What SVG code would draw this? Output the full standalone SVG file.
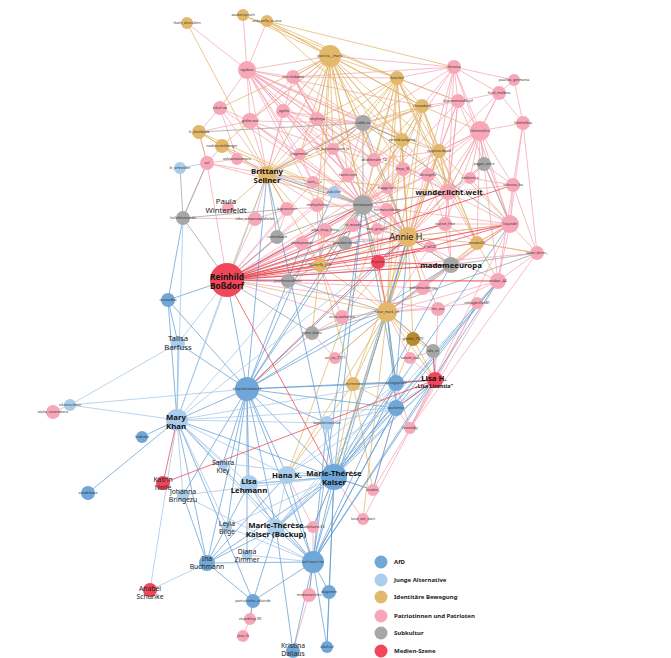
<svg xmlns="http://www.w3.org/2000/svg" width="671" height="658" viewBox="0 0 671 658">
<style>
#edges path{fill:none;stroke-width:.85;stroke-opacity:.85}
.ep path{stroke:#f4a1b2}.eg path{stroke:#e2b363}.eb path{stroke:#5e9bd1}.el path{stroke:#9dc3e6}.ey path{stroke:#9a9a9a}.er path{stroke:#ee3a4d}
.afd{fill:#6fa7d8}.ja{fill:#a9cdea}.ib{fill:#e4b86a}.pp{fill:#f7a7b8}.sk{fill:#a7a7a7}.ms{fill:#f2475a}.ibd{fill:#b88a2c}
text{font-family:"Noto Sans","Open Sans",sans-serif;text-anchor:middle}
.s{font-size:3.6px;fill:#333}
.b{font-size:7.8px;font-weight:700;fill:#111}
.r{font-size:7.8px;fill:#222}
.q{font-size:6.8px;fill:#222}
.lg{font-size:6px;font-weight:700;fill:#222;text-anchor:start}
</style>
<rect width="671" height="658" fill="#fff"/>
<g id="edges">
<g class="ep">
<path d="M247 70L187 23"/><path d="M247 70L243 15"/><path d="M247 70L267 21"/><path d="M247 70L293 77"/><path d="M247 70L220 108"/><path d="M247 70L250 121"/><path d="M247 70L283 111"/><path d="M247 70L317 119"/><path d="M247 70L330 56"/><path d="M247 70L267 174"/><path d="M247 70L333 149"/><path d="M247 70L374 160"/><path d="M247 70L363 123"/><path d="M247 70L300 154"/><path d="M247 70L363 205"/><path d="M247 70L408 237"/><path d="M247 70L403 169"/><path d="M247 70L348 175"/><path d="M247 70L439 151"/><path d="M247 70L402 140"/><path d="M247 70L422 106"/><path d="M247 70L313 182"/><path d="M247 70L448 192"/><path d="M247 70L317 205"/>
<path d="M293 77L330 56"/><path d="M293 77L250 121"/><path d="M293 77L317 119"/><path d="M293 77L363 123"/><path d="M293 77L397 78"/><path d="M293 77L454 67"/><path d="M293 77L333 149"/><path d="M293 77L363 205"/><path d="M293 77L267 174"/><path d="M293 77L348 175"/><path d="M293 77L408 237"/>
<path d="M454 67L330 56"/><path d="M454 67L397 78"/><path d="M454 67L458 101"/><path d="M454 67L480 131"/><path d="M454 67L499 93"/><path d="M454 67L422 106"/><path d="M454 67L439 151"/><path d="M454 67L448 192"/><path d="M454 67L510 224"/><path d="M454 67L408 237"/><path d="M454 67L363 205"/><path d="M454 67L363 123"/><path d="M454 67L514 80"/>
<path d="M499 93L514 80"/><path d="M499 93L458 101"/><path d="M499 93L480 131"/><path d="M499 93L523 123"/><path d="M499 93L439 151"/><path d="M499 93L448 192"/>
<path d="M523 123L514 80"/><path d="M523 123L480 131"/><path d="M523 123L513 185"/><path d="M523 123L537 253"/><path d="M523 123L510 224"/>
<path d="M458 101L397 78"/><path d="M458 101L480 131"/><path d="M458 101L439 151"/><path d="M458 101L422 106"/><path d="M458 101L363 123"/><path d="M458 101L363 205"/><path d="M458 101L448 192"/><path d="M458 101L408 237"/><path d="M458 101L445 224"/><path d="M458 101L510 224"/>
<path d="M480 131L439 151"/><path d="M480 131L484 164"/><path d="M480 131L470 178"/><path d="M480 131L513 185"/><path d="M480 131L448 192"/><path d="M480 131L510 224"/><path d="M480 131L408 237"/><path d="M480 131L363 205"/><path d="M480 131L477 243"/><path d="M480 131L498 281"/><path d="M480 131L445 224"/><path d="M480 131L428 175"/><path d="M480 131L403 169"/>
<path d="M220 108L250 121"/><path d="M220 108L267 174"/><path d="M220 108L237 159"/><path d="M220 108L199 132"/><path d="M220 108L363 205"/>
<path d="M283 111L330 56"/><path d="M283 111L363 123"/><path d="M283 111L317 119"/><path d="M283 111L333 149"/><path d="M283 111L267 174"/><path d="M283 111L363 205"/><path d="M283 111L374 160"/><path d="M283 111L348 175"/>
<path d="M317 119L330 56"/><path d="M317 119L363 123"/><path d="M317 119L333 149"/><path d="M317 119L300 154"/><path d="M317 119L363 205"/><path d="M317 119L267 174"/><path d="M317 119L374 160"/><path d="M317 119L408 237"/>
<path d="M250 121L330 56"/><path d="M250 121L199 132"/><path d="M250 121L363 123"/><path d="M250 121L267 174"/><path d="M250 121L333 149"/><path d="M250 121L300 154"/><path d="M250 121L363 205"/><path d="M250 121L408 237"/>
<path d="M333 149L363 123"/><path d="M333 149L363 205"/><path d="M333 149L374 160"/><path d="M333 149L348 175"/><path d="M333 149L313 182"/><path d="M333 149L408 237"/>
<path d="M300 154L267 174"/><path d="M300 154L363 205"/><path d="M300 154L363 123"/><path d="M300 154L313 182"/>
<path d="M374 160L363 205"/><path d="M374 160L402 140"/><path d="M374 160L403 169"/><path d="M374 160L408 237"/><path d="M374 160L363 123"/><path d="M374 160L439 151"/>
<path d="M207 163L199 132"/><path d="M207 163L183 218"/><path d="M207 163L267 174"/><path d="M207 163L222 146"/><path d="M207 163L237 159"/><path d="M207 163L363 205"/><path d="M207 163L227 280"/>
<path d="M237 159L267 174"/><path d="M237 159L222 146"/><path d="M237 159L363 205"/>
<path d="M403 169L363 205"/><path d="M403 169L408 237"/><path d="M403 169L402 140"/><path d="M403 169L448 192"/><path d="M403 169L428 175"/><path d="M403 169L227 280"/>
<path d="M348 175L363 205"/><path d="M348 175L408 237"/><path d="M348 175L363 123"/><path d="M348 175L334 192"/><path d="M348 175L227 280"/>
<path d="M428 175L448 192"/><path d="M428 175L408 237"/><path d="M428 175L439 151"/><path d="M428 175L363 205"/><path d="M428 175L445 224"/><path d="M428 175L227 280"/>
<path d="M470 178L448 192"/><path d="M470 178L484 164"/><path d="M470 178L510 224"/><path d="M470 178L408 237"/><path d="M470 178L513 185"/>
<path d="M513 185L510 224"/><path d="M513 185L537 253"/><path d="M513 185L448 192"/><path d="M513 185L498 281"/><path d="M513 185L484 164"/>
<path d="M313 182L363 205"/><path d="M313 182L334 192"/><path d="M313 182L267 174"/><path d="M313 182L227 280"/>
<path d="M387 188L363 205"/><path d="M387 188L408 237"/><path d="M387 188L403 169"/><path d="M387 188L227 280"/>
<path d="M448 192L408 237"/><path d="M448 192L363 205"/><path d="M448 192L439 151"/><path d="M448 192L510 224"/><path d="M448 192L445 224"/><path d="M448 192L477 243"/><path d="M448 192L451 265"/><path d="M448 192L378 262"/><path d="M448 192L227 280"/>
<path d="M317 205L363 205"/><path d="M317 205L267 174"/><path d="M317 205L325 230"/><path d="M317 205L320 265"/><path d="M317 205L227 280"/>
<path d="M387 210L363 205"/><path d="M387 210L408 237"/><path d="M387 210L378 262"/><path d="M387 210L353 225"/><path d="M387 210L227 280"/>
<path d="M287 209L363 205"/><path d="M287 209L267 174"/><path d="M287 209L227 280"/><path d="M287 209L255 219"/><path d="M287 209L277 237"/>
<path d="M255 219L227 280"/><path d="M255 219L267 174"/><path d="M255 219L183 218"/>
<path d="M353 225L363 205"/><path d="M353 225L408 237"/><path d="M353 225L378 262"/><path d="M353 225L345 243"/><path d="M353 225L227 280"/>
<path d="M377 229L408 237"/><path d="M377 229L363 205"/><path d="M377 229L378 262"/><path d="M377 229L227 280"/>
<path d="M325 230L363 205"/><path d="M325 230L320 265"/><path d="M325 230L227 280"/>
<path d="M445 224L408 237"/><path d="M445 224L510 224"/><path d="M445 224L477 243"/><path d="M445 224L451 265"/><path d="M445 224L227 280"/>
<path d="M510 224L408 237"/><path d="M510 224L477 243"/><path d="M510 224L537 253"/><path d="M510 224L498 281"/><path d="M510 224L451 265"/><path d="M510 224L363 205"/><path d="M510 224L423 288"/><path d="M510 224L387 312"/><path d="M510 224L410 428"/><path d="M510 224L227 280"/>
<path d="M302 243L363 205"/><path d="M302 243L320 265"/><path d="M302 243L227 280"/><path d="M302 243L408 237"/>
<path d="M430 247L408 237"/><path d="M430 247L451 265"/><path d="M430 247L387 312"/><path d="M430 247L227 280"/>
<path d="M537 253L498 281"/><path d="M537 253L477 243"/><path d="M537 253L410 428"/><path d="M537 253L227 280"/>
<path d="M498 281L387 312"/><path d="M498 281L408 237"/><path d="M498 281L477 303"/><path d="M498 281L438 309"/><path d="M498 281L373 490"/><path d="M498 281L227 280"/>
<path d="M423 288L387 312"/><path d="M423 288L408 237"/><path d="M423 288L451 265"/><path d="M423 288L227 280"/>
<path d="M477 303L387 312"/><path d="M477 303L435 380"/><path d="M477 303L363 519"/>
<path d="M438 309L387 312"/><path d="M438 309L435 380"/><path d="M438 309L408 237"/><path d="M438 309L227 280"/>
<path d="M342 317L387 312"/><path d="M342 317L312 333"/><path d="M342 317L320 265"/><path d="M342 317L408 237"/><path d="M342 317L227 280"/>
<path d="M335 358L387 312"/><path d="M335 358L312 333"/>
<path d="M410 358L433 351"/><path d="M410 358L387 312"/><path d="M410 358L435 380"/>
<path d="M410 428L396 408"/><path d="M410 428L435 380"/><path d="M410 428L396 383"/>
<path d="M373 490L334 477"/><path d="M373 490L396 408"/>
<path d="M363 519L334 477"/>
<path d="M313 527L334 477"/><path d="M313 527L313 562"/><path d="M313 527L287 475"/>
<path d="M309 595L313 562"/><path d="M309 595L293 651"/>
<path d="M250 619L253 601"/><path d="M250 619L243 636"/>
<path d="M53 412L70 405"/>
</g>
<g class="eg">
<path d="M187 23L267 174"/><path d="M243 15L330 56"/><path d="M243 15L397 78"/>
<path d="M267 21L330 56"/><path d="M267 21L397 78"/><path d="M267 21L422 106"/><path d="M267 21L402 140"/><path d="M267 21L454 67"/>
<path d="M330 56L397 78"/><path d="M330 56L422 106"/><path d="M330 56L402 140"/><path d="M330 56L439 151"/><path d="M330 56L363 123"/><path d="M330 56L333 149"/><path d="M330 56L317 119"/><path d="M330 56L283 111"/><path d="M330 56L250 121"/><path d="M330 56L293 77"/><path d="M330 56L267 174"/><path d="M330 56L363 205"/><path d="M330 56L408 237"/><path d="M330 56L374 160"/><path d="M330 56L348 175"/><path d="M330 56L448 192"/><path d="M330 56L300 154"/><path d="M330 56L320 265"/><path d="M330 56L387 312"/><path d="M330 56L403 169"/><path d="M330 56L317 205"/><path d="M330 56L220 108"/>
<path d="M397 78L422 106"/><path d="M397 78L402 140"/><path d="M397 78L439 151"/><path d="M397 78L363 123"/><path d="M397 78L363 205"/><path d="M397 78L408 237"/><path d="M397 78L458 101"/><path d="M397 78L333 149"/><path d="M397 78L374 160"/><path d="M397 78L348 175"/><path d="M397 78L317 119"/><path d="M397 78L448 192"/><path d="M397 78L387 188"/><path d="M397 78L387 312"/><path d="M397 78L477 243"/><path d="M397 78L267 174"/>
<path d="M422 106L402 140"/><path d="M422 106L439 151"/><path d="M422 106L363 123"/><path d="M422 106L363 205"/><path d="M422 106L408 237"/><path d="M422 106L374 160"/><path d="M422 106L480 131"/><path d="M422 106L448 192"/><path d="M422 106L333 149"/><path d="M422 106L387 312"/><path d="M422 106L477 243"/><path d="M422 106L267 174"/><path d="M422 106L287 475"/>
<path d="M402 140L439 151"/><path d="M402 140L363 123"/><path d="M402 140L363 205"/><path d="M402 140L408 237"/><path d="M402 140L403 169"/><path d="M402 140L348 175"/><path d="M402 140L387 312"/><path d="M402 140L320 265"/>
<path d="M439 151L408 237"/><path d="M439 151L363 205"/><path d="M439 151L448 192"/><path d="M439 151L477 243"/><path d="M439 151L510 224"/><path d="M439 151L387 312"/><path d="M439 151L334 477"/>
<path d="M199 132L222 146"/><path d="M199 132L207 163"/><path d="M199 132L363 205"/><path d="M199 132L267 174"/>
<path d="M222 146L267 174"/><path d="M222 146L250 121"/><path d="M222 146L363 205"/>
<path d="M267 174L363 205"/><path d="M267 174L408 237"/><path d="M267 174L363 123"/><path d="M267 174L227 280"/><path d="M267 174L228 208"/><path d="M267 174L320 265"/><path d="M267 174L387 312"/><path d="M267 174L333 149"/><path d="M267 174L287 209"/><path d="M267 174L448 192"/>
<path d="M408 237L363 205"/><path d="M408 237L477 243"/><path d="M408 237L387 312"/><path d="M408 237L451 265"/><path d="M408 237L378 262"/><path d="M408 237L510 224"/><path d="M408 237L448 192"/><path d="M408 237L320 265"/><path d="M408 237L413 339"/><path d="M408 237L353 384"/><path d="M408 237L423 288"/><path d="M408 237L227 280"/>
<path d="M477 243L537 253"/><path d="M477 243L510 224"/><path d="M477 243L387 312"/><path d="M477 243L451 265"/><path d="M477 243L498 281"/>
<path d="M320 265L227 280"/><path d="M320 265L363 205"/><path d="M320 265L387 312"/><path d="M320 265L288 281"/><path d="M320 265L312 333"/><path d="M320 265L353 384"/>
<path d="M387 312L413 339"/><path d="M387 312L353 384"/><path d="M387 312L433 351"/><path d="M387 312L363 519"/><path d="M387 312L334 477"/><path d="M387 312L435 380"/><path d="M387 312L335 358"/><path d="M387 312L287 475"/><path d="M387 312L396 383"/><path d="M387 312L227 280"/>
<path d="M353 384L334 477"/><path d="M353 384L396 383"/><path d="M353 384L396 408"/><path d="M353 384L287 475"/><path d="M353 384L373 490"/>
<path d="M413 339L433 351"/><path d="M413 339L435 380"/><path d="M413 339L396 383"/>
</g>
<g class="ey">
<path d="M363 123L363 205"/><path d="M363 123L402 140"/><path d="M363 123L333 149"/><path d="M363 123L267 174"/><path d="M363 123L408 237"/><path d="M363 123L199 132"/><path d="M363 123L510 224"/>
<path d="M484 164L448 192"/><path d="M484 164L510 224"/>
<path d="M363 205L408 237"/><path d="M363 205L267 174"/><path d="M363 205L320 265"/><path d="M363 205L227 280"/><path d="M363 205L448 192"/><path d="M363 205L378 262"/>
<path d="M183 218L207 163"/><path d="M183 218L227 280"/><path d="M183 218L180 168"/><path d="M183 218L287 209"/>
<path d="M277 237L227 280"/><path d="M277 237L267 174"/><path d="M277 237L363 205"/>
<path d="M345 243L363 205"/><path d="M345 243L408 237"/><path d="M345 243L227 280"/>
<path d="M451 265L537 253"/><path d="M451 265L408 237"/><path d="M451 265L387 312"/><path d="M451 265L227 280"/>
<path d="M288 281L227 280"/><path d="M288 281L363 205"/><path d="M288 281L387 312"/>
<path d="M312 333L387 312"/><path d="M312 333L247 389"/><path d="M312 333L227 280"/><path d="M312 333L537 253"/>
<path d="M433 351L435 380"/><path d="M433 351L387 312"/>
</g>
<g class="eb">
<path d="M168 300L183 218"/><path d="M168 300L227 280"/><path d="M168 300L177 420"/><path d="M168 300L178 343"/><path d="M168 300L247 389"/>
<path d="M247 389L227 280"/><path d="M247 389L178 343"/><path d="M247 389L177 420"/><path d="M247 389L334 477"/><path d="M247 389L287 475"/><path d="M247 389L249 484"/><path d="M247 389L276 528"/><path d="M247 389L313 562"/><path d="M247 389L327 423"/><path d="M247 389L396 383"/><path d="M247 389L396 408"/><path d="M247 389L363 205"/><path d="M247 389L267 174"/><path d="M247 389L408 237"/><path d="M247 389L387 312"/><path d="M247 389L207 563"/><path d="M247 389L223 463"/><path d="M247 389L227 527"/><path d="M247 389L247 555"/><path d="M247 389L183 495"/><path d="M247 389L334 192"/><path d="M247 389L451 265"/><path d="M247 389L435 380"/><path d="M247 389L345 243"/><path d="M247 389L302 243"/>
<path d="M396 383L334 477"/><path d="M396 383L396 408"/><path d="M396 383L435 380"/><path d="M396 383L387 312"/><path d="M396 383L313 562"/><path d="M396 383L408 237"/><path d="M396 383L363 205"/>
<path d="M396 408L334 477"/><path d="M396 408L313 562"/><path d="M396 408L435 380"/><path d="M396 408L373 490"/><path d="M396 408L387 312"/><path d="M396 408L498 281"/>
<path d="M142 437L177 420"/><path d="M88 493L177 420"/>
<path d="M334 477L313 562"/><path d="M334 477L287 475"/><path d="M334 477L249 484"/><path d="M334 477L276 528"/><path d="M334 477L435 380"/><path d="M334 477L498 281"/><path d="M334 477L408 237"/><path d="M334 477L363 205"/><path d="M334 477L373 490"/><path d="M334 477L313 527"/><path d="M334 477L327 423"/><path d="M334 477L177 420"/><path d="M334 477L477 303"/><path d="M334 477L510 224"/><path d="M334 477L451 265"/><path d="M334 477L267 174"/>
<path d="M207 563L313 562"/><path d="M207 563L249 484"/><path d="M207 563L177 420"/><path d="M207 563L253 601"/><path d="M207 563L276 528"/><path d="M207 563L183 495"/><path d="M207 563L287 475"/><path d="M207 563L334 477"/>
<path d="M313 562L276 528"/><path d="M313 562L287 475"/><path d="M313 562L249 484"/><path d="M313 562L396 408"/><path d="M313 562L293 651"/><path d="M313 562L327 647"/><path d="M313 562L329 592"/><path d="M313 562L309 595"/><path d="M313 562L253 601"/><path d="M313 562L177 420"/><path d="M313 562L435 380"/><path d="M313 562L327 423"/><path d="M313 562L498 281"/><path d="M313 562L363 205"/><path d="M313 562L408 237"/>
<path d="M253 601L250 619"/><path d="M253 601L276 528"/><path d="M253 601L177 420"/>
<path d="M329 592L327 647"/><path d="M329 592L334 477"/>
<path d="M293 651L276 528"/><path d="M327 647L334 477"/>
</g>
<g class="el">
<path d="M180 168L207 163"/><path d="M334 192L363 205"/><path d="M334 192L408 237"/><path d="M334 192L267 174"/>
<path d="M178 343L70 405"/><path d="M178 343L177 420"/><path d="M178 343L227 280"/>
<path d="M70 405L177 420"/><path d="M70 405L247 389"/>
<path d="M177 420L178 343"/><path d="M177 420L227 280"/><path d="M177 420L287 475"/><path d="M177 420L249 484"/><path d="M177 420L276 528"/><path d="M177 420L183 495"/><path d="M177 420L150 590"/><path d="M177 420L223 463"/><path d="M177 420L327 423"/><path d="M177 420L396 408"/><path d="M177 420L396 383"/><path d="M177 420L408 237"/><path d="M177 420L363 205"/><path d="M177 420L183 218"/><path d="M177 420L267 174"/><path d="M177 420L227 527"/>
<path d="M327 423L334 477"/><path d="M327 423L396 408"/>
<path d="M249 484L334 477"/><path d="M249 484L287 475"/><path d="M249 484L276 528"/>
<path d="M287 475L435 380"/><path d="M287 475L396 383"/>
<path d="M276 528L334 477"/><path d="M276 528L287 475"/><path d="M276 528L249 484"/><path d="M276 528L396 408"/><path d="M276 528L396 383"/><path d="M276 528L498 281"/><path d="M276 528L435 380"/>
<path d="M183 495L334 477"/><path d="M183 495L313 562"/>
<path d="M223 463L334 477"/><path d="M227 527L313 562"/><path d="M227 527L334 477"/><path d="M247 555L313 562"/><path d="M247 555L334 477"/>
<path d="M150 590L207 563"/>
</g>
<g class="er">
<path d="M227 280L448 192"/><path d="M227 280L510 224"/><path d="M227 280L445 224"/><path d="M227 280L408 237"/><path d="M227 280L363 205"/><path d="M227 280L378 262"/><path d="M227 280L451 265"/><path d="M227 280L477 243"/><path d="M227 280L334 477"/><path d="M227 280L498 281"/><path d="M227 280L513 185"/><path d="M227 280L430 247"/>
<path d="M378 262L408 237"/><path d="M378 262L387 312"/><path d="M378 262L510 224"/><path d="M378 262L451 265"/><path d="M378 262L247 389"/>
<path d="M435 380L433 351"/><path d="M435 380L396 383"/><path d="M435 380L396 408"/>
<path d="M163 483L177 420"/><path d="M163 483L435 380"/>
</g>
</g>
<g id="nodes">
<g id="n-thalis"><circle cx="187" cy="23" r="6" class="ib"/><text x="187" y="24.2" class="s">thalis_dosculten</text></g>
<g id="n-zauber"><circle cx="243" cy="15" r="6" class="ib"/><text x="243" y="16.2" class="s">zauberspruch</text></g>
<g id="n-ankap"><circle cx="267" cy="21" r="6" class="ib"/><text x="267" y="22.2" class="s">ankapella_su.ana</text></g>
<g id="n-patricia"><circle cx="330" cy="56" r="11" class="ib"/><text x="330" y="57.2" class="s">patricia__maria</text></g>
<g id="n-futur"><circle cx="397" cy="78" r="7" class="ib"/><text x="397" y="79.2" class="s">futurleo</text></g>
<g id="n-zhora"><circle cx="422" cy="106" r="7" class="ib"/><text x="422" y="107.2" class="s">zhosadand</text></g>
<g id="n-erreed"><circle cx="402" cy="140" r="7" class="ib"/><text x="402" y="141.2" class="s">erreed.aufgang</text></g>
<g id="n-eugenia"><circle cx="439" cy="151" r="7" class="ib"/><text x="439" y="152.2" class="s">eugenia.david</text></g>
<g id="n-ledeold"><circle cx="199" cy="132" r="7" class="ib"/><text x="199" y="133.2" class="s">le_deoldsaw</text></g>
<g id="n-nadine"><circle cx="222" cy="146" r="7" class="ib"/><text x="222" y="147.2" class="s">nadine.eichberger</text></g>
<g id="n-egidess"><circle cx="247" cy="70" r="9" class="pp"/><text x="247" y="71.2" class="s">egidess</text></g>
<g id="n-meimid"><circle cx="293" cy="77" r="7" class="pp"/><text x="293" y="78.2" class="s">mei.midwest</text></g>
<g id="n-illonosa"><circle cx="454" cy="67" r="7" class="pp"/><text x="454" y="68.2" class="s">illonosa</text></g>
<g id="n-paulina"><circle cx="514" cy="80" r="6" class="pp"/><text x="514" y="81.2" class="s">paulina_germania</text></g>
<g id="n-furel"><circle cx="499" cy="93" r="7" class="pp"/><text x="499" y="94.2" class="s">furel_malbica</text></g>
<g id="n-bluemen"><circle cx="458" cy="101" r="7" class="pp"/><text x="458" y="102.2" class="s">bluemenundhopf</text></g>
<g id="n-nikolina"><circle cx="220" cy="108" r="7" class="pp"/><text x="220" y="109.2" class="s">nikoli.na</text></g>
<g id="n-ogelia"><circle cx="283" cy="111" r="7" class="pp"/><text x="283" y="112.2" class="s">_ogelia</text></g>
<g id="n-ninyfreya"><circle cx="317" cy="119" r="7" class="pp"/><text x="317" y="120.2" class="s">ninyfreya</text></g>
<g id="n-gothe"><circle cx="250" cy="121" r="8" class="pp"/><text x="250" y="122.2" class="s">gothe.sod</text></g>
<g id="n-lichthel"><circle cx="523" cy="123" r="7" class="pp"/><text x="523" y="124.2" class="s">lichthelksa</text></g>
<g id="n-rheines"><circle cx="480" cy="131" r="10" class="pp"/><text x="480" y="132.2" class="s">rheinesillrst</text></g>
<g id="n-logosmo"><circle cx="333" cy="149" r="6" class="pp"/><text x="333" y="150.2" class="s">m_logosmo.oum_fe</text></g>
<g id="n-fragmente"><circle cx="300" cy="154" r="6" class="pp"/><text x="300" y="155.2" class="s">_fragmente__</text></g>
<g id="n-deidel"><circle cx="374" cy="160" r="7" class="pp"/><text x="374" y="161.2" class="s">deidelerahr_14</text></g>
<g id="n-sol"><circle cx="207" cy="163" r="7" class="pp"/><text x="207" y="164.2" class="s">sol</text></g>
<g id="n-vahiane"><circle cx="237" cy="159" r="6" class="pp"/><text x="237" y="160.2" class="s">vahianeavamara</text></g>
<g id="n-freya"><circle cx="403" cy="169" r="7" class="pp"/><text x="403" y="170.2" class="s">freya_35</text></g>
<g id="n-hanni"><circle cx="348" cy="175" r="7" class="pp"/><text x="348" y="176.2" class="s">hanni.com</text></g>
<g id="n-dirvogel"><circle cx="428" cy="175" r="7" class="pp"/><text x="428" y="176.2" class="s">dir.vogelle</text></g>
<g id="n-ambient"><circle cx="470" cy="178" r="6" class="pp"/><text x="470" y="179.2" class="s">ambient.a</text></g>
<g id="n-schoose"><circle cx="513" cy="185" r="7" class="pp"/><text x="513" y="186.2" class="s">schoose_ha</text></g>
<g id="n-euro"><circle cx="313" cy="182" r="6" class="pp"/><text x="313" y="183.2" class="s">__euro___o</text></g>
<g id="n-fraggi"><circle cx="387" cy="188" r="6" class="pp"/><text x="387" y="189.2" class="s">fraggi.luna</text></g>
<g id="n-malnysh"><circle cx="317" cy="205" r="7" class="pp"/><text x="317" y="206.2" class="s">malnyshelva</text></g>
<g id="n-heimatsol"><circle cx="387" cy="210" r="7" class="pp"/><text x="387" y="211.2" class="s">heimatsoldaten</text></g>
<g id="n-lagrunz"><circle cx="287" cy="209" r="7" class="pp"/><text x="287" y="210.2" class="s">lagrunzione</text></g>
<g id="n-elke"><circle cx="255" cy="219" r="7" class="pp"/><text x="255" y="220.2" class="s">elke_schwarzwaldliebe</text></g>
<g id="n-ckmaede"><circle cx="353" cy="225" r="7" class="pp"/><text x="353" y="226.2" class="s">ck_maede</text></g>
<g id="n-sissi"><circle cx="377" cy="229" r="6" class="pp"/><text x="377" y="230.2" class="s">sissi_gruppe</text></g>
<g id="n-areashop"><circle cx="325" cy="230" r="7" class="pp"/><text x="325" y="231.2" class="s">area_shop_bless</text></g>
<g id="n-station"><circle cx="445" cy="224" r="7" class="pp"/><text x="445" y="225.2" class="s">station_fme</text></g>
<g id="n-lotjunde"><circle cx="510" cy="224" r="9" class="pp"/><text x="510" y="225.2" class="s">lotjunde</text></g>
<g id="n-shellap"><circle cx="302" cy="243" r="7" class="pp"/><text x="302" y="244.2" class="s">shellapseods</text></g>
<g id="n-ew520"><circle cx="430" cy="247" r="6" class="pp"/><text x="430" y="248.2" class="s">e_w520</text></g>
<g id="n-taute"><circle cx="537" cy="253" r="7" class="pp"/><text x="537" y="254.2" class="s">taute_derns_</text></g>
<g id="n-arabur"><circle cx="498" cy="281" r="8" class="pp"/><text x="498" y="282.2" class="s">arabur_44</text></g>
<g id="n-schildm"><circle cx="423" cy="288" r="7" class="pp"/><text x="423" y="289.2" class="s">schildmaidencay</text></g>
<g id="n-schlag"><circle cx="477" cy="303" r="6" class="pp"/><text x="477" y="304.2" class="s">schlagbrillen81</text></g>
<g id="n-moass"><circle cx="438" cy="309" r="7" class="pp"/><text x="438" y="310.2" class="s">mo_ass</text></g>
<g id="n-orina"><circle cx="342" cy="317" r="7" class="pp"/><text x="342" y="318.2" class="s">orina.katharina</text></g>
<g id="n-unria"><circle cx="335" cy="358" r="6" class="pp"/><text x="335" y="359.2" class="s">un_ria_2111</text></g>
<g id="n-salami"><circle cx="410" cy="358" r="6" class="pp"/><text x="410" y="359.2" class="s">salami_ava</text></g>
<g id="n-honestby"><circle cx="410" cy="428" r="6" class="pp"/><text x="410" y="429.2" class="s">honestby</text></g>
<g id="n-insiden"><circle cx="373" cy="490" r="6" class="pp"/><text x="373" y="491.2" class="s">insiden_</text></g>
<g id="n-luise"><circle cx="363" cy="519" r="6" class="pp"/><text x="363" y="520.2" class="s">luise_am_start</text></g>
<g id="n-radiohansi"><circle cx="313" cy="527" r="6" class="pp"/><text x="313" y="528.2" class="s">radiohansi.33</text></g>
<g id="n-mediamar"><circle cx="309" cy="595" r="7" class="pp"/><text x="309" y="596.2" class="s">mediamarieho</text></g>
<g id="n-eisard"><circle cx="250" cy="619" r="6" class="pp"/><text x="250" y="620.2" class="s">eisardhop.99</text></g>
<g id="n-jessi"><circle cx="243" cy="636" r="6" class="pp"/><text x="243" y="637.2" class="s">jessi_fv</text></g>
<g id="n-alpha"><circle cx="53" cy="412" r="7" class="pp"/><text x="53" y="413.2" class="s">alpha_november.x</text></g>
<g id="n-riddic"><circle cx="363" cy="123" r="8" class="sk"/><text x="363" y="124.2" class="s">riddic.ss</text></g>
<g id="n-pagan"><circle cx="484" cy="164" r="7" class="sk"/><text x="484" y="165.2" class="s">pagan_store</text></g>
<g id="n-heimatpuls"><circle cx="363" cy="205" r="10" class="sk"/><text x="363" y="206.2" class="s">heimatpuls</text></g>
<g id="n-kollekt"><circle cx="183" cy="218" r="7" class="sk"/><text x="183" y="219.2" class="s">kollektivstunde</text></g>
<g id="n-rochenb"><circle cx="277" cy="237" r="7" class="sk"/><text x="277" y="238.2" class="s">rochenbach</text></g>
<g id="n-kawden"><circle cx="345" cy="243" r="7" class="sk"/><text x="345" y="244.2" class="s">kaw.den.literal</text></g>
<g id="n-josefine"><circle cx="288" cy="281" r="7" class="sk"/><text x="288" y="282.2" class="s">josefineandhour</text></g>
<g id="n-enter"><circle cx="312" cy="333" r="7" class="sk"/><text x="312" y="334.2" class="s">enter_blanc</text></g>
<g id="n-alla"><circle cx="433" cy="351" r="7" class="sk"/><text x="433" y="352.2" class="s">alla_se</text></g>
<g id="n-zenabo"><circle cx="477" cy="243" r="7" class="ib"/><text x="477" y="244.2" class="s">zenabo55</text></g>
<g id="n-butterfly"><circle cx="320" cy="265" r="7" class="ib"/><text x="320" y="266.2" class="s">butterfly_joel</text></g>
<g id="n-neuemark"><circle cx="387" cy="312" r="10" class="ib"/><text x="387" y="313.2" class="s">neue_mark_ch</text></g>
<g id="n-hornesie"><circle cx="353" cy="384" r="7" class="ib"/><text x="353" y="385.2" class="s">hornesie</text></g>
<g id="n-grothe"><circle cx="413" cy="339" r="7" class="ibd"/><text x="413" y="340.2" class="s">grothe_1997</text></g>
<g id="n-feyrenz"><circle cx="378" cy="262" r="7" class="ms"/><text x="378" y="263.2" class="s">feyrenz</text></g>
<g id="n-vicneadha"><circle cx="168" cy="300" r="7" class="afd"/><text x="168" y="301.2" class="s">vicneadha</text></g>
<g id="n-shopberta"><circle cx="247" cy="389" r="12" class="afd"/><text x="247" y="390.2" class="s">shop.bertamacht</text></g>
<g id="n-ornage"><circle cx="396" cy="383" r="8" class="afd"/><text x="396" y="384.2" class="s">ornageplatz</text></g>
<g id="n-spottense"><circle cx="396" cy="408" r="8" class="afd"/><text x="396" y="409.2" class="s">spottense</text></g>
<g id="n-lindtube"><circle cx="142" cy="437" r="6" class="afd"/><text x="142" y="438.2" class="s">lindtube</text></g>
<g id="n-anadel"><circle cx="88" cy="493" r="7" class="afd"/><text x="88" y="494.2" class="s">anadelease</text></g>
<g id="n-patriot"><circle cx="253" cy="601" r="7" class="afd"/><text x="253" y="602.2" class="s">patriotische_akkorde</text></g>
<g id="n-diagomin"><circle cx="329" cy="592" r="7" class="afd"/><text x="329" y="593.2" class="s">diagomin</text></g>
<g id="n-eduf"><circle cx="327" cy="647" r="6" class="afd"/><text x="327" y="648.2" class="s">eduf.sol</text></g>
<g id="n-anfmarie"><circle cx="313" cy="562" r="11" class="afd"/><text x="313" y="563.2" class="s">anf.marie.ha</text></g>
<g id="n-leschneider"><circle cx="180" cy="168" r="6" class="ja"/><text x="180" y="169.2" class="s">le_schneider</text></g>
<g id="n-zubklee"><circle cx="334" cy="192" r="6" class="ja"/><text x="334" y="193.2" class="s">zub.klee</text></g>
<g id="n-viktoria"><circle cx="70" cy="405" r="6" class="ja"/><text x="70" y="406.2" class="s">viktoria.theie</text></g>
<g id="n-kunstler"><circle cx="327" cy="423" r="7" class="ja"/><text x="327" y="424.2" class="s">kunstlerinnenbe</text></g>
<g id="n-paula"><circle cx="228" cy="208" r="6" class="pp"/><text x="226" y="203.5" class="r">Paula</text><text x="226" y="212.5" class="r">Winterfeldt</text></g>
<g id="n-brittany"><circle cx="267" cy="175" r="9" class="ib"/><text x="267" y="173.5" class="b">Brittany</text><text x="267" y="182.5" class="b">Sellner</text></g>
<g id="n-annie"><circle cx="408" cy="237" r="10" class="ib"/><text x="407" y="240" class="r" style="font-size:9px">Annie H.</text></g>
<g id="n-wunder"><circle cx="448" cy="192" r="8" class="pp"/><text x="449" y="195" class="b">wunder.licht.welt</text></g>
<g id="n-madame"><circle cx="451" cy="265" r="8" class="sk"/><text x="451" y="268" class="b">madameeuropa</text></g>
<g id="n-reinhild"><circle cx="227" cy="280" r="17" class="ms"/><text x="227" y="279.5" class="b" style="font-size:8.3px">Reinhild</text><text x="227" y="289" class="b" style="font-size:8.3px">Boßdorf</text></g>
<g id="n-lisah"><circle cx="435" cy="380" r="8" class="ms"/><text x="434" y="381" class="b">Lisa H.</text><text x="434" y="388" class="b" style="font-size:5.3px">„Lisa Licentia“</text></g>
<g id="n-talisa"><circle cx="178" cy="343" r="7" class="ja"/><text x="178" y="340.5" class="r">Talisa</text><text x="178" y="349.5" class="r">Barfuss</text></g>
<g id="n-marykhan"><circle cx="177" cy="420" r="11" class="ja"/><text x="176" y="419.5" class="b">Mary</text><text x="176" y="428.5" class="b">Khan</text></g>
<g id="n-samira"><circle cx="223" cy="465" r="5" class="ja"/><text x="223" y="464.5" class="q">Samira</text><text x="223" y="472.5" class="q">Kley</text></g>
<g id="n-hanak"><circle cx="287" cy="475" r="9" class="ja"/><text x="287" y="478" class="b">Hana K.</text></g>
<g id="n-lisaleh"><circle cx="249" cy="484" r="9" class="ja"/><text x="249" y="483.5" class="b">Lisa</text><text x="249" y="492.5" class="b">Lehmann</text></g>
<g id="n-mtkaiser"><circle cx="334" cy="477" r="13" class="afd"/><text x="334" y="475.5" class="b">Marie-Thérèse</text><text x="334" y="484.5" class="b">Kaiser</text></g>
<g id="n-katrin"><circle cx="163" cy="483" r="7" class="ms"/><text x="163" y="481.5" class="q">Katrin</text><text x="163" y="489.5" class="q">Nolle</text></g>
<g id="n-johanna"><circle cx="183" cy="495" r="6" class="ja"/><text x="183" y="494" class="q">Johanna</text><text x="183" y="502" class="q">Bringezu</text></g>
<g id="n-leyla"><circle cx="227" cy="527" r="5" class="ja"/><text x="227" y="526" class="q">Leyla</text><text x="227" y="534" class="q">Bilge</text></g>
<g id="n-mtkbackup"><circle cx="276" cy="528" r="9" class="ja"/><text x="276" y="527.5" class="b">Marie-Thérèse</text><text x="276" y="536.5" class="b">Kaiser (Backup)</text></g>
<g id="n-diana"><circle cx="247" cy="555" r="5" class="ja"/><text x="247" y="554" class="q">Diana</text><text x="247" y="562" class="q">Zimmer</text></g>
<g id="n-inab"><circle cx="207" cy="563" r="8" class="afd"/><text x="207" y="560.5" class="q">Ina</text><text x="207" y="568.5" class="q">Buchmann</text></g>
<g id="n-anabel"><circle cx="150" cy="590" r="7" class="ms"/><text x="150" y="591" class="q">Anabel</text><text x="150" y="599" class="q">Schunke</text></g>
<g id="n-kristina"><circle cx="293" cy="651" r="7" class="afd"/><text x="293" y="648" class="q">Kristina</text><text x="293" y="656" class="q">Dallaus</text></g>
</g>
<g id="legend">
<circle cx="381" cy="562" r="6.5" class="afd"/><text x="394" y="564.2" class="lg">AfD</text>
<circle cx="381" cy="580" r="6.5" class="ja"/><text x="394" y="582.2" class="lg">Junge Alternative</text>
<circle cx="381" cy="597" r="6.5" class="ib"/><text x="394" y="599.2" class="lg">Identitäre Bewegung</text>
<circle cx="381" cy="616" r="6.5" class="pp"/><text x="394" y="618.2" class="lg">Patriotinnen und Patrioten</text>
<circle cx="381" cy="633" r="6.5" class="sk"/><text x="394" y="635.2" class="lg">Subkultur</text>
<circle cx="381" cy="651" r="6.5" class="ms"/><text x="394" y="653.2" class="lg">Medien-Szene</text>
</g>
</svg>
